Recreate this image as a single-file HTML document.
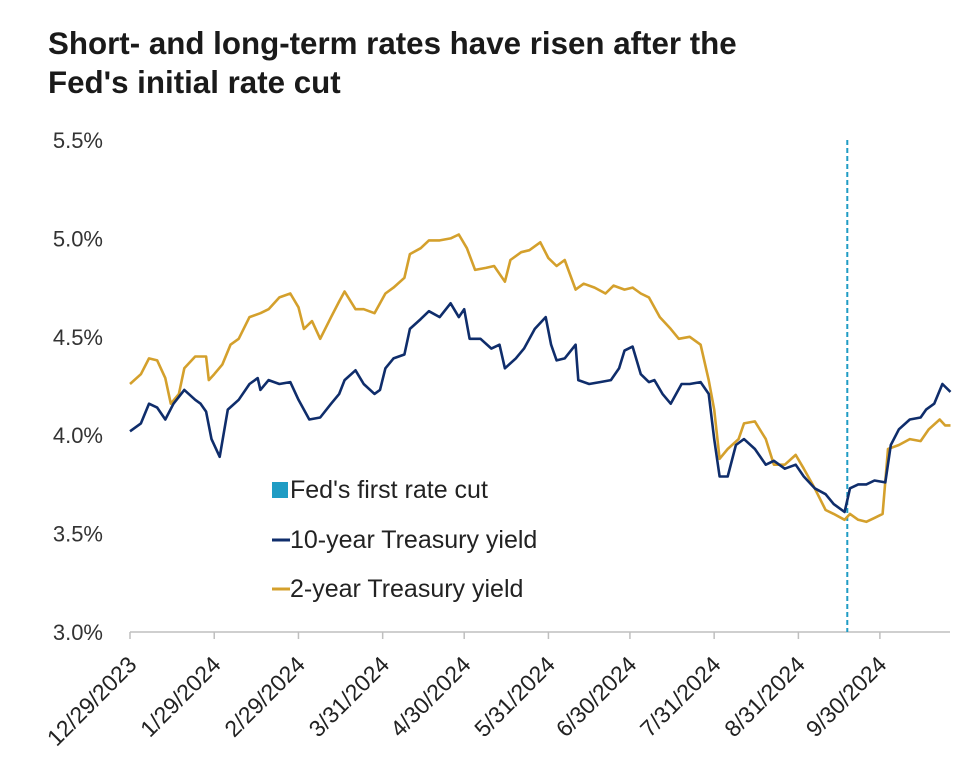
<!DOCTYPE html>
<html><head><meta charset="utf-8">
<style>
body{margin:0;background:#fff;font-family:"Liberation Sans",Arial,sans-serif;}
#wrap{position:relative;width:975px;height:779px;overflow:hidden;}
.title{position:absolute;left:48px;top:24px;font-size:31.3px;font-weight:bold;color:#1a1a1a;line-height:39px;}
svg{position:absolute;left:0;top:0;}
</style></head>
<body>
<div id="wrap">
<div class="title">Short- and long-term rates have risen after the<br>Fed's initial rate cut</div>
<svg id="chart" width="975" height="779"></svg>
</div>
<script>
const yTicks=[3.0,3.5,4.0,4.5,5.0,5.5];
const xTickLabels=["12/29/2023","1/29/2024","2/29/2024","3/31/2024","4/30/2024","5/31/2024","6/30/2024","7/31/2024","8/31/2024","9/30/2024"];
const xTickDays=[0,31,62,93,123,154,184,215,246,276];
const cutDay=264;
const tenDays=[0,4,7,10,13,16,20,24,26,28,30,33,36,40,44,47,48,51,55,59,62,66,70,74,77,79,83,86,90,92,94,97,101,103,107,110,114,118,121,123,125,129,133,136,138,142,145,149,153,155,157,160,164,165,169,173,177,180,182,185,188,191,193,196,199,203,206,210,213,215,217,220,223,226,230,234,237,241,245,248,252,256,259,263,265,268,271,274,278,280,283,287,291,293,296,299,302];
const tenVals=[4.02,4.06,4.16,4.14,4.08,4.16,4.23,4.18,4.16,4.12,3.98,3.89,4.13,4.18,4.26,4.29,4.23,4.28,4.26,4.27,4.18,4.08,4.09,4.16,4.21,4.28,4.33,4.26,4.21,4.23,4.34,4.39,4.41,4.54,4.59,4.63,4.60,4.67,4.60,4.64,4.49,4.49,4.44,4.46,4.34,4.39,4.44,4.54,4.60,4.46,4.38,4.39,4.46,4.28,4.26,4.27,4.28,4.34,4.43,4.45,4.31,4.27,4.28,4.21,4.16,4.26,4.26,4.27,4.21,3.98,3.79,3.79,3.95,3.98,3.93,3.85,3.87,3.83,3.85,3.79,3.73,3.70,3.65,3.61,3.73,3.75,3.75,3.77,3.76,3.95,4.03,4.08,4.09,4.13,4.16,4.26,4.22];
const twoDays=[0,4,7,10,13,15,18,20,24,28,29,31,34,37,40,44,48,51,55,59,62,64,67,70,74,77,79,83,86,90,94,97,101,103,107,110,114,118,121,124,127,131,134,138,140,144,147,151,154,157,160,164,167,171,175,178,182,185,188,191,195,199,202,206,210,213,215,217,220,224,226,230,234,237,241,245,248,252,256,259,263,265,268,271,274,277,279,283,287,291,294,298,300,302];
const twoVals=[4.26,4.31,4.39,4.38,4.29,4.16,4.21,4.34,4.40,4.40,4.28,4.31,4.36,4.46,4.49,4.60,4.62,4.64,4.70,4.72,4.65,4.54,4.58,4.49,4.60,4.68,4.73,4.64,4.64,4.62,4.72,4.75,4.80,4.92,4.95,4.99,4.99,5.00,5.02,4.95,4.84,4.85,4.86,4.78,4.89,4.93,4.94,4.98,4.90,4.86,4.89,4.74,4.77,4.75,4.72,4.76,4.74,4.75,4.72,4.70,4.60,4.54,4.49,4.50,4.46,4.28,4.13,3.88,3.93,3.98,4.06,4.07,3.98,3.85,3.85,3.90,3.83,3.73,3.62,3.60,3.57,3.60,3.57,3.56,3.58,3.60,3.93,3.95,3.98,3.97,4.03,4.08,4.05,4.05];

const NS="http://www.w3.org/2000/svg";
const svg=document.getElementById('chart');
const X0=130,PXD=2.717,Y0=632,PXV=196.8;
function xs(d){return X0+d*PXD;}
function ys(v){return Y0-(v-3.0)*PXV;}
function mk(tag,attrs){const e=document.createElementNS(NS,tag);for(const k in attrs)e.setAttribute(k,attrs[k]);svg.appendChild(e);return e;}

yTicks.forEach(v=>{
  const t=mk('text',{x:103,y:ys(v)+8,'text-anchor':'end','font-size':22,fill:'#333'});
  t.textContent=v.toFixed(1)+'%';
  
  
});
const ax=mk('line',{x1:X0,y1:Y0,x2:950,y2:Y0,stroke:'#bfbfbf','stroke-width':1.5});


xTickDays.forEach((d,i)=>{
  const tk=mk('line',{x1:xs(d),y1:Y0,x2:xs(d),y2:Y0+7,stroke:'#bfbfbf','stroke-width':1.5});
  
  
  const x=xs(d)+8,y=Y0+34;
  const t=mk('text',{x:x,y:y,'text-anchor':'end','font-size':23,fill:'#222',transform:`rotate(-45 ${x} ${y})`});
  t.textContent=xTickLabels[i];
  
  
});
const cut=mk('line',{x1:xs(cutDay),y1:140,x2:xs(cutDay),y2:Y0,stroke:'#1f9cc4','stroke-width':2,'stroke-dasharray':'5,3'});


function series(days,vals,color,name){
  const p=days.map((d,i)=>xs(d).toFixed(1)+','+ys(vals[i]).toFixed(1)).join(' ');
  const l=mk('polyline',{points:p,fill:'none',stroke:color,'stroke-width':2.6,'stroke-linejoin':'round'});
  
  
}
series(twoDays,twoVals,'#d4a02c','two-year-yield-line');
series(tenDays,tenVals,'#0f2d6b','ten-year-yield-line');

const lg1=mk('rect',{x:272,y:482,width:16,height:16,fill:'#1f9cc4'});


const lt1=mk('text',{x:290,y:498,'font-size':25,fill:'#222'});lt1.textContent="Fed's first rate cut";


const lg2=mk('line',{x1:272,y1:540,x2:290,y2:540,stroke:'#0f2d6b','stroke-width':3});


const lt2=mk('text',{x:290,y:548,'font-size':25,fill:'#222'});lt2.textContent="10-year Treasury yield";


const lg3=mk('line',{x1:272,y1:589,x2:290,y2:589,stroke:'#d4a02c','stroke-width':3});


const lt3=mk('text',{x:290,y:597,'font-size':25,fill:'#222'});lt3.textContent="2-year Treasury yield";


</script>
</body></html>
